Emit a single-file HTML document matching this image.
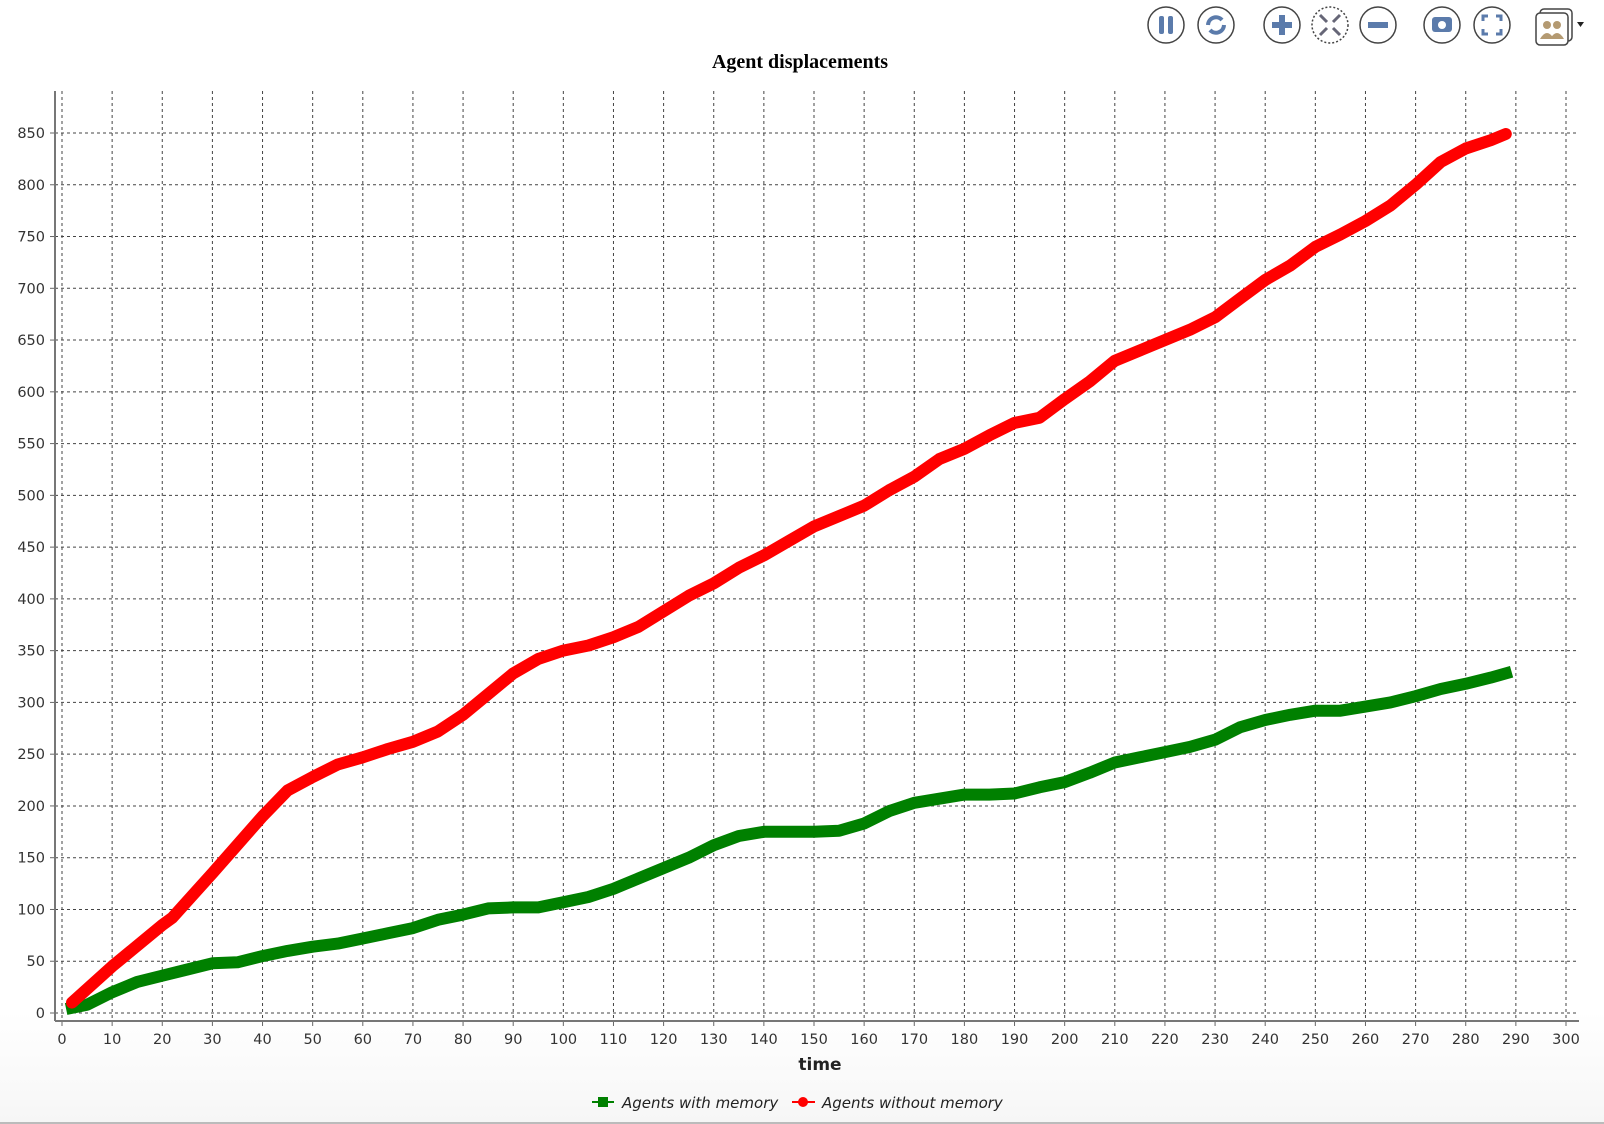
<!DOCTYPE html>
<html><head><meta charset="utf-8"><style>
html,body{margin:0;padding:0;background:#fff;}
svg{display:block;}
text{font-family:"DejaVu Sans","Liberation Sans",sans-serif;}
</style></head><body>
<svg id="chart" width="1604" height="1124" xmlns="http://www.w3.org/2000/svg">
<defs><linearGradient id="bg" x1="0" y1="0" x2="0" y2="1"><stop offset="0.9" stop-color="#fff"/><stop offset="1" stop-color="#f6f6f6"/></linearGradient></defs>
<rect width="1604" height="1124" fill="url(#bg)"/>
<line x1="0" y1="1123" x2="1604" y2="1123" stroke="#bbb" stroke-width="2"/>
<g id="toolbar"></g>
<text x="800" y="68" text-anchor="middle" style="font-family:'Liberation Serif',serif;font-weight:bold;font-size:20px">Agent displacements</text>
<g id="grid"></g>
<g id="axes"></g>
<g id="series"></g>
<text x="820" y="1070" text-anchor="middle" font-size="17" font-weight="bold" fill="#222">time</text>
<g>
<g><line x1="592" y1="1102" x2="614" y2="1102" stroke="#008000" stroke-width="2"/><rect x="598" y="1097" width="10" height="10" fill="#008000"/><text x="622" y="1108" font-size="15" font-style="italic" fill="#222">Agents with memory</text></g>
<g><line x1="792" y1="1102" x2="815" y2="1102" stroke="#ff0000" stroke-width="2"/><circle cx="803" cy="1102" r="5" fill="#ff0000"/><text x="822" y="1108" font-size="15" font-style="italic" fill="#222">Agents without memory</text></g>
</g>
</svg>
<script>
const xTicks=[0,10,20,30,40,50,60,70,80,90,100,110,120,130,140,150,160,170,180,190,200,210,220,230,240,250,260,270,280,290,300];
const yTicks=[0,50,100,150,200,250,300,350,400,450,500,550,600,650,700,750,800,850];
const timeRed=[2,10,20,22,30,40,45,50,55,60,65,70,75,80,85,90,95,100,105,110,115,120,125,130,135,140,145,150,155,160,165,170,175,180,185,190,195,200,205,210,215,220,225,230,235,240,245,250,255,260,265,270,275,280,285,288];
const withoutMemory=[10,45,85,92,135,190,215,228,240,247,255,262,272,288,308,328,342,350,355,363,373,388,403,415,430,442,456,470,480,490,505,518,535,545,558,570,575,593,610,630,640,650,660,672,690,708,722,740,752,765,780,800,822,835,843,849];
const timeGreen=[2,5,10,15,20,25,30,35,40,45,50,55,60,65,70,75,80,85,90,95,100,105,110,115,120,125,130,135,140,145,150,155,160,165,170,175,180,185,190,195,200,205,210,215,220,225,230,235,240,245,250,255,260,265,270,275,280,285,288];
const withMemory=[5,8,20,30,36,42,48,49,55,60,64,67,72,77,82,90,95,101,102,102,107,112,120,130,140,150,162,171,175,175,175,176,183,195,203,207,211,211,212,218,223,232,242,247,252,257,264,276,283,288,292,292,296,300,306,313,318,324,328];

const NS='http://www.w3.org/2000/svg';
const X=v=>62+v*(1566-62)/300;
const Y=v=>1013-v*(1013-133)/850;
function mk(parent,tag,attrs){const e=document.createElementNS(NS,tag);for(const k in attrs)e.setAttribute(k,attrs[k]);document.getElementById(parent).appendChild(e);return e;}
xTicks.forEach(t=>{const l=mk('grid','line',{x1:X(t),y1:91,x2:X(t),y2:1021,stroke:'#444','stroke-width':1,'stroke-dasharray':'3,3'});


const tk=mk('axes','line',{x1:X(t),y1:1021,x2:X(t),y2:1026,stroke:'#666'});


const tx=mk('axes','text',{x:X(t),y:1044,'text-anchor':'middle','font-size':14.5,fill:'#333'});tx.textContent=t;

});
yTicks.forEach(t=>{const l=mk('grid','line',{x1:55,y1:Y(t),x2:1578,y2:Y(t),stroke:'#444','stroke-width':1,'stroke-dasharray':'3,3'});


const tk=mk('axes','line',{x1:50,y1:Y(t),x2:55,y2:Y(t),stroke:'#666'});


const tx=mk('axes','text',{x:45,y:Y(t)+5,'text-anchor':'end','font-size':14.5,fill:'#333'});tx.textContent=t;

});
const ya=mk('axes','line',{x1:55,y1:91,x2:55,y2:1021,stroke:'#777','stroke-width':2});


const xa=mk('axes','line',{x1:55,y1:1021,x2:1579,y2:1021,stroke:'#777','stroke-width':2});


function pts(xs,ys){return xs.map((t,i)=>X(t).toFixed(1)+','+Y(ys[i]).toFixed(1)).join(' ');}
const g=mk('series','polyline',{points:pts(timeGreen,withMemory),fill:'none',stroke:'#008000','stroke-width':12,'stroke-linejoin':'round','stroke-linecap':'square'});


const r=mk('series','polyline',{points:pts(timeRed,withoutMemory),fill:'none',stroke:'#ff0000','stroke-width':12,'stroke-linejoin':'round','stroke-linecap':'round'});


const icons=[[1166,'pause-button'],[1216,'refresh-button'],[1282,'zoom-in-button'],[1330,'reset-zoom-button'],[1378,'zoom-out-button'],[1442,'snapshot-button'],[1492,'fullscreen-button']];
icons.forEach(([cx,name])=>{const c=mk('toolbar','circle',{cx:cx,cy:25,r:18,fill:'#fff',stroke:'#444','stroke-width':1.5,'stroke-dasharray':name==='reset-zoom-button'?'2,2':'none'});

});
const B='#5b7bab';
mk('toolbar','rect',{x:1159,y:16,width:5,height:18,rx:2,fill:B});mk('toolbar','rect',{x:1168,y:16,width:5,height:18,rx:2,fill:B});
mk('toolbar','path',{d:'M1208 25 a8 8 0 0 1 14 -5 M1224 25 a8 8 0 0 1 -14 5',fill:'none',stroke:B,'stroke-width':4});
mk('toolbar','rect',{x:1272,y:22,width:20,height:6,fill:B});mk('toolbar','rect',{x:1279,y:15,width:6,height:20,fill:B});
mk('toolbar','path',{d:'M1320 15 l7 7 M1340 15 l-7 7 M1320 35 l7 -7 M1340 35 l-7 -7',stroke:'#667',"stroke-width":3});
mk('toolbar','rect',{x:1368,y:22,width:20,height:6,fill:B});
mk('toolbar','rect',{x:1432,y:17,width:20,height:15,rx:3,fill:B});mk('toolbar','circle',{cx:1442,cy:25,r:4,fill:'#fff'});
mk('toolbar','path',{d:'M1483 21 v-5 h5 M1496 16 h5 v5 M1501 29 v5 h-5 M1488 34 h-5 v-5',fill:'none',stroke:B,'stroke-width':3});
const p=mk('toolbar','rect',{x:1540,y:9,width:32,height:32,rx:4,fill:'#fff',stroke:'#444','stroke-width':1.5});


mk('toolbar','rect',{x:1536,y:13,width:32,height:32,rx:4,fill:'#fff',stroke:'#444','stroke-width':1.5});
mk('toolbar','circle',{cx:1547,cy:25,r:4,fill:'#b49a72'});mk('toolbar','circle',{cx:1557,cy:25,r:4,fill:'#b49a72'});
mk('toolbar','path',{d:'M1540 39 q7 -12 14 0 z M1550 39 q7 -12 14 0 z',fill:'#b49a72'});
mk('toolbar','path',{d:'M1577 22 h7 l-3.5 5 z',fill:'#222'});
</script>
</body></html>
